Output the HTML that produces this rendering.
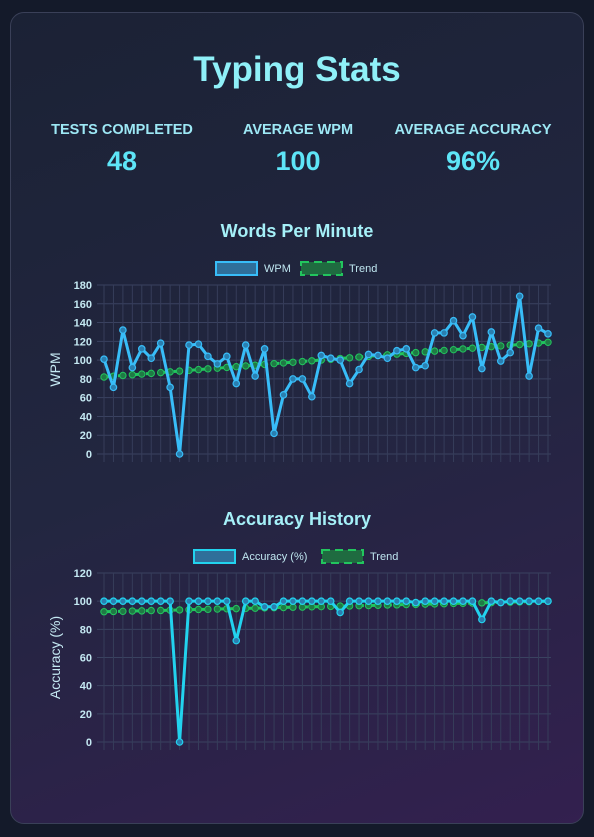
<!DOCTYPE html>
<html><head><meta charset="utf-8">
<style>
html,body{margin:0;padding:0;width:594px;height:837px;overflow:hidden;background:#141a2a;font-family:"Liberation Sans",sans-serif}
.card{position:absolute;left:10px;top:12px;width:574px;height:812px;border-radius:14px;border:1px solid #3a4058;background:linear-gradient(160deg,#1b2235 0%,#222640 50%,#33204f 100%);box-sizing:border-box}
h1{position:absolute;left:0;width:594px;top:50px;margin:0;text-align:center;color:#8ff0f8;font-size:35px;font-weight:bold}
.stat{position:absolute;top:122px;width:200px;text-align:center}
.stat .l{color:#9de8f5;font-size:14.5px;font-weight:bold}
.stat .v{color:#5ee5f7;font-size:27px;font-weight:bold;margin-top:8px}
svg{position:absolute;left:0;top:0}
</style></head><body>
<div class="card"></div>
<h1>Typing Stats</h1>
<div class="stat" style="left:22px"><div class="l">TESTS COMPLETED</div><div class="v">48</div></div>
<div class="stat" style="left:198px"><div class="l">AVERAGE WPM</div><div class="v">100</div></div>
<div class="stat" style="left:373px"><div class="l">AVERAGE ACCURACY</div><div class="v">96%</div></div>
<svg id="s" width="594" height="837"></svg>
<script>
const wpmValues=[101,71,132,92,112,102,118,71,0,116,117,104,96,104,75,116,83,112,22,63,80,80,61,105,102,100,75,90,106,105,102,110,112,92,94,129,129,142,126,146,91,130,99,108,168,83,134,128];
const wpmTrend=[82,82.8,83.6,84.4,85.1,85.9,86.7,87.5,88.3,89.1,89.9,90.7,91.4,92.2,93,93.8,94.6,95.4,96.2,97,97.7,98.5,99.3,100.1,100.9,101.7,102.5,103.3,104,104.8,105.6,106.4,107.2,108,108.8,109.6,110.3,111.1,111.9,112.7,113.5,114.3,115.1,115.9,116.6,117.4,118.2,119];
const accValues=[100,100,100,100,100,100,100,100,0,100,100,100,100,100,72,100,100,96,96,100,100,100,100,100,100,92,100,100,100,100,100,100,100,99,100,100,100,100,100,100,87,100,99,100,100,100,100,100];
const accTrend=[92.5,92.7,92.8,93,93.1,93.3,93.4,93.6,93.8,93.9,94.1,94.2,94.4,94.6,94.7,94.9,95,95.2,95.4,95.5,95.7,95.8,96,96.1,96.3,96.5,96.6,96.8,96.9,97.1,97.3,97.4,97.6,97.7,97.9,98,98.2,98.4,98.5,98.7,98.8,99,99.2,99.3,99.5,99.6,99.8,100];
const wpmTicks=[0,20,40,60,80,100,120,140,160,180];
const accTicks=[0,20,40,60,80,100,120];
const NS='http://www.w3.org/2000/svg',svg=document.getElementById('s');
function mk(t,a,p){const e=document.createElementNS(NS,t);for(const k in a)e.setAttribute(k,a[k]);(p||svg).appendChild(e);return e;}
function chart(o){
  const x0=104,x1=548,L=97,R=551,n=o.vals.length;
  const xs=i=>x0+(x1-x0)*i/(n-1), ys=v=>o.yb-(o.yb-o.yt)*v/o.max;
  const g=mk('g',{});
  
  
  const t=mk('text',{x:297,y:o.titleY,'text-anchor':'middle',fill:'#a5f0f8','font-size':18,'font-weight':'bold'},g);t.textContent=o.title;
  
  const lg=mk('g',{},g);
  mk('rect',{x:o.lx,y:o.legY-6,width:41,height:13,fill:'#2f6f9a',stroke:o.col,'stroke-width':2},lg);
  const t1=mk('text',{x:o.lx+48,y:o.legY+4,fill:'#bfe6f0','font-size':11},lg);t1.textContent=o.label;
  const tx=o.lx+48+o.lw;
  mk('rect',{x:tx,y:o.legY-6,width:41,height:13,fill:'#1f6b40',stroke:'#22c55e','stroke-width':2,'stroke-dasharray':'8 5'},lg);
  const t2=mk('text',{x:tx+48,y:o.legY+4,fill:'#bfe6f0','font-size':11},lg);t2.textContent='Trend';
  o.ticks.forEach(v=>{const y=ys(v);mk('line',{x1:L,x2:R,y1:y,y2:y,stroke:'#3a4260','stroke-width':1},g);
    const tt=mk('text',{x:92,y:y+4,'text-anchor':'end',fill:'#c4e8f2','font-size':11,'font-weight':'bold'},g);tt.textContent=v;
    });
  for(let i=0;i<n;i++){const x=xs(i);mk('line',{x1:x,x2:x,y1:o.yt,y2:o.yb+8,stroke:'#363d5a','stroke-width':1},g);}
  const yl=mk('text',{transform:`translate(60,${(o.yt+o.yb)/2}) rotate(-90)`,'text-anchor':'middle',fill:'#c4e8f2','font-size':14},g);yl.textContent=o.ylab;
  
  const tp=o.trend.map((v,i)=>xs(i)+','+ys(v)).join(' ');
  const tl=mk('polyline',{points:tp,fill:'none',stroke:'#22c55e','stroke-width':3,'stroke-dasharray':'8 6'},g);
  
  o.trend.forEach((v,i)=>{const c=mk('circle',{cx:xs(i),cy:ys(v),r:3.2,fill:'#1f7a45',stroke:'#22c55e','stroke-width':1},g);
    });
  const lp=o.vals.map((v,i)=>xs(i)+','+ys(v)).join(' ');
  const ml=mk('polyline',{points:lp,fill:'none',stroke:o.col,'stroke-width':3,'stroke-linejoin':'round'},g);
  
  o.vals.forEach((v,i)=>{const c=mk('circle',{cx:xs(i),cy:ys(v),r:3.2,fill:'#2a7fb0',stroke:o.col,'stroke-width':1.2},g);
    });
}
chart({name:'wpm',title:'Words Per Minute',titleY:237,legY:268,lx:216,lw:37,label:'WPM',col:'#38bdf8',vals:wpmValues,trend:wpmTrend,ticks:wpmTicks,max:180,yt:285,yb:454,ylab:'WPM'});
chart({name:'accuracy',title:'Accuracy History',titleY:525,legY:556,lx:194,lw:80,label:'Accuracy (%)',col:'#22d3ee',vals:accValues,trend:accTrend,ticks:accTicks,max:120,yt:573,yb:742,ylab:'Accuracy (%)'});
</script>
</body></html>
